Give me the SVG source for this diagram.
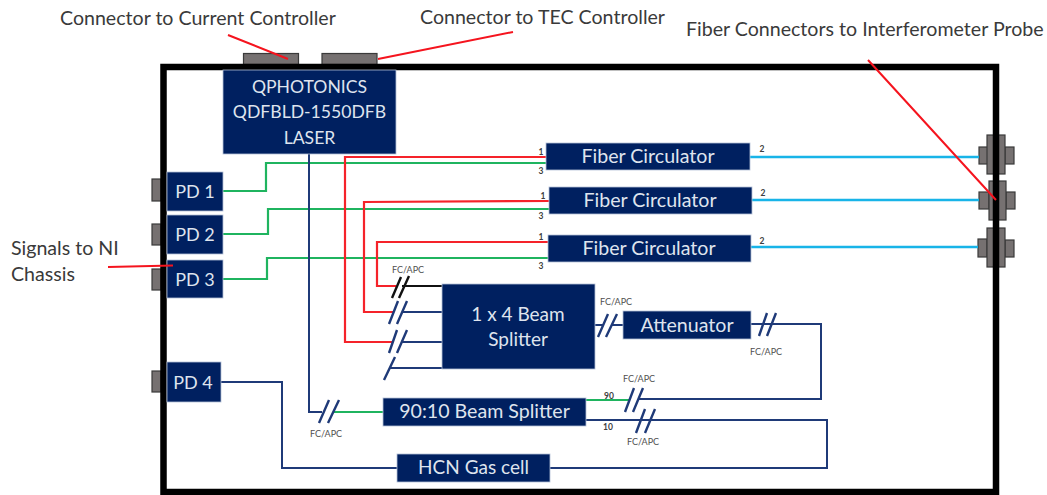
<svg xmlns="http://www.w3.org/2000/svg" width="1047" height="495" viewBox="0 0 1047 495">
<style>
text{font-family:Lato,"Liberation Sans",sans-serif}
.n rect,rect.n{fill:#002060;stroke:#b4c0d8;stroke-width:.8}
.n text{fill:#dfe4ee;font-size:19.600px;text-anchor:middle}
#laser text{font-size:17.600px}
#pd1 text,#pd2 text,#pd3 text,#pd4 text{font-size:18px}
#beam-splitter text,#hcn text{font-size:19px}
.g{fill:#767171;stroke:#3a3a3a;stroke-width:1.2}
.l{fill:#3a3a3a;font-size:19.600px}
.f{fill:#505050;font-size:9px;text-anchor:middle}
.d{fill:#404040;font-size:8.500px;font-weight:700;text-anchor:middle}
#connectors path,#connectors line{fill:none;stroke-linejoin:miter}
.r{stroke:#f5232a;stroke-width:2.200;fill:none}
.gr{stroke:#1fb45f;stroke-width:2.200;fill:none}
.c{stroke:#18b4e8;stroke-width:2.400;fill:none}
.b{stroke:#1f3a78;stroke-width:2;fill:none}
.k{stroke:#111;stroke-width:2;fill:none}
.s{stroke:#1f3a78;stroke-width:2.400;fill:none}
.a{stroke:#f5141e;stroke-width:2;fill:none}
</style>
<g id="ports">
<rect class="g" x="243.500" y="53.500" width="55" height="11"/>
<rect class="g" x="322" y="53.500" width="55" height="11"/>
<rect class="g" x="152" y="179" width="9" height="22"/>
<rect class="g" x="152" y="224" width="9" height="21"/>
<rect class="g" x="152" y="269" width="9" height="21"/>
<rect class="g" x="152" y="371" width="9" height="21"/>
<g id="fiber-port-1"><rect class="g" x="979" y="147" width="9" height="17"/><rect class="g" x="1005" y="147" width="9" height="17"/><rect class="g" x="987" y="135" width="18" height="39"/></g>
<g id="fiber-port-2"><rect class="g" x="979" y="192" width="10" height="17"/><rect class="g" x="1006" y="192" width="9" height="17"/><rect class="g" x="989" y="181" width="17" height="39"/></g>
<g id="fiber-port-3"><rect class="g" x="978" y="239" width="9" height="18"/><rect class="g" x="1005" y="240" width="9" height="17"/><rect class="g" x="987" y="228" width="18" height="39"/></g>
</g>
<rect id="enclosure" x="163.500" y="67" width="832.500" height="425" fill="none" stroke="#000" stroke-width="6.500"/>
<g id="connectors">
<path class="gr" d="M223 191H266V163H548"/>
<path class="gr" d="M223 234H268V209H549"/>
<path class="gr" d="M223 279H267V258H548"/>
<path class="r" d="M546 157H345V342H393"/>
<path class="r" d="M549 201L364 202V312H393"/>
<path class="r" d="M548 242H377V286H396"/>
<path class="c" d="M750 157H979M752 200H979M751 247H978"/>
<path class="k" d="M402 286H442"/>
<path class="b" d="M403 312H442M402 342H442M389 368H442"/>
<path class="b" d="M309 154V412H322"/>
<path class="gr" d="M333 412H383"/>
<path class="b" d="M595 325H603M612 325H623"/>
<path class="b" d="M751 324H821V399H638"/>
<path class="gr" d="M586 400H630"/>
<path class="b" d="M586 420H827V468H550"/>
<path class="b" d="M397 468H282V382H221"/>
<path class="k" style="stroke-width:2.400" d="M392 298L401 277M399 298L409 276"/>
<path class="s" d="M389 324L398 301M397 324L407 301M389 353L397 330M397 353L407 330M384 380L395 357"/>
<path class="s" d="M598 337L608 314M606 337L617 314M759 336L767 313M767 336L776 313"/>
<path class="s" d="M625 412L634 388M633 412L643 388M636 433L645 409M645 433L655 409"/>
<path class="s" d="M319 423L329 400M328 423L339 400"/>
</g>
<g id="laser" class="n"><rect x="223" y="70" width="173" height="84"/><text x="309.500" y="93">QPHOTONICS</text><text x="309.500" y="118">QDFBLD-1550DFB</text><text x="309.500" y="144">LASER</text></g>
<g id="pd1" class="n"><rect x="167" y="172" width="56" height="39"/><text x="195" y="198">PD 1</text></g>
<g id="pd2" class="n"><rect x="167" y="215" width="56" height="39"/><text x="195" y="241">PD 2</text></g>
<g id="pd3" class="n"><rect x="167" y="260" width="56" height="38"/><text x="195" y="286">PD 3</text></g>
<g id="pd4" class="n"><rect x="167" y="362" width="54" height="40"/><text x="193" y="389">PD 4</text></g>
<g id="circulator1" class="n"><rect x="546" y="143" width="204" height="27"/><text x="648" y="163">Fiber Circulator</text></g>
<g id="circulator2" class="n"><rect x="549" y="187" width="203" height="27"/><text x="650" y="207">Fiber Circulator</text></g>
<g id="circulator3" class="n"><rect x="548" y="235" width="203" height="27"/><text x="649" y="255">Fiber Circulator</text></g>
<g id="beam-splitter" class="n"><rect x="442" y="284" width="153" height="85"/><text x="518" y="321">1 x 4 Beam</text><text x="518" y="346">Splitter</text></g>
<g id="attenuator" class="n"><rect x="623" y="311" width="128" height="28"/><text x="687" y="332">Attenuator</text></g>
<g id="splitter-90-10" class="n"><rect x="383" y="398" width="203" height="28"/><text x="484.500" y="418">90:10 Beam Splitter</text></g>
<g id="hcn" class="n"><rect x="397" y="454" width="153" height="28"/><text x="473.500" y="474">HCN Gas cell</text></g>
<g id="port-labels">
<text class="d" x="541" y="155">1</text><text class="d" x="541" y="174">3</text><text class="d" x="762" y="152">2</text>
<text class="d" x="543" y="199">1</text><text class="d" x="541" y="219">3</text><text class="d" x="763" y="196">2</text>
<text class="d" x="541" y="240">1</text><text class="d" x="541" y="269">3</text><text class="d" x="762" y="244">2</text>
<text class="d" x="609" y="399">90</text><text class="d" x="608" y="430">10</text>
<text class="f" x="408" y="273">FC/APC</text><text class="f" x="616" y="305">FC/APC</text><text class="f" x="766" y="355">FC/APC</text><text class="f" x="639" y="382">FC/APC</text><text class="f" x="643" y="445">FC/APC</text><text class="f" x="326" y="437">FC/APC</text>
</g>
<g id="annotations">
<path class="a" d="M228 35L288 59M378 59L513 32M868 60L996 200M108 267L173 265.500"/>
<text class="l" x="60" y="25">Connector to Current Controller</text>
<text class="l" x="420" y="24">Connector to TEC Controller</text>
<text class="l" x="686" y="36">Fiber Connectors to Interferometer Probe</text>
<text class="l" x="11" y="255">Signals to NI</text>
<text class="l" x="11" y="281">Chassis</text>
</g>
</svg>
